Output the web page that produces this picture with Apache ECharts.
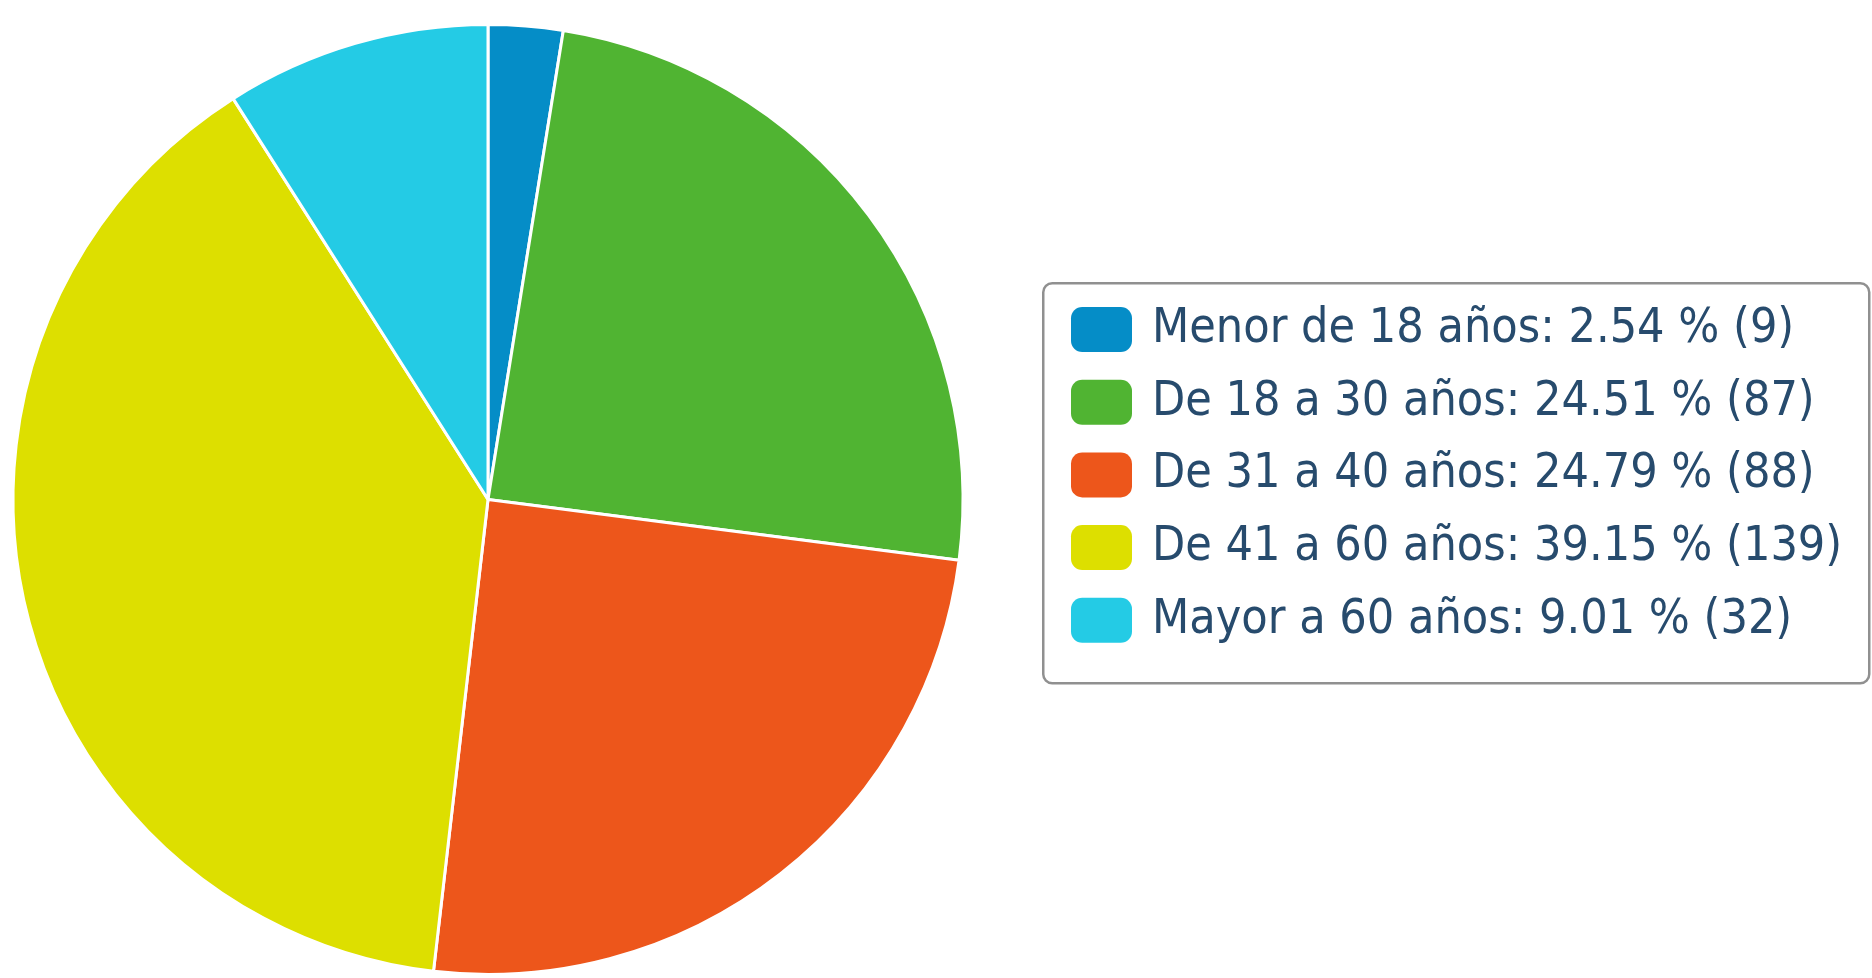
<!DOCTYPE html>
<html>
<head>
<meta charset="utf-8">
<script src="https://cdn.jsdelivr.net/npm/echarts@6/dist/echarts.min.js"></script>
<style>
  html, body { margin: 0; padding: 0; background: #fff; }
  #chart { width: 1872px; height: 978px; }
</style>
</head>
<body>
<div id="chart"></div>
<script>
// grupos de edad
const categories = ["Menor de 18 años", "De 18 a 30 años", "De 31 a 40 años", "De 41 a 60 años", "Mayor a 60 años"];
const counts = [9, 87, 88, 139, 32];
const colors = ["#058dc7", "#50b432", "#ed561b", "#dddf00", "#24cbe5"];

const total = counts.reduce((a, b) => a + b, 0);
const pieData = categories.map((name, i) => ({
  name,
  value: counts[i],
  itemStyle: { color: colors[i] },
}));

const chart = echarts.init(document.getElementById("chart"));
const option = {
  backgroundColor: "#ffffff",
  animation: false,
  graphic: [
    {
      type: "rect",
      left: 1042,
      top: 282,
      shape: { width: 826, height: 400, r: 9 },
      style: { fill: "#ffffff", stroke: "#909090", lineWidth: 2.5 },
      z: 0,
    },
  ],
  legend: {
    orient: "vertical",
    left: 1066,
    top: 299,
    itemWidth: 61,
    itemHeight: 45,
    itemGap: 21.7,
    icon: "roundRect",
    itemStyle: { borderWidth: 0 },
    textStyle: {
      fontFamily: "DejaVu Sans Condensed",
      fontSize: 48,
      lineHeight: 45,
      color: "#274b6d",
      padding: [6, 0, 0, 15],
    },
    formatter: (name) => {
      const i = categories.indexOf(name);
      const pct = ((counts[i] / total) * 100).toFixed(2);
      return name + ": " + pct + " % (" + counts[i] + ")";
    },
    z: 5,
  },
  series: [
    {
      type: "pie",
      center: [488, 499.5],
      radius: 475,
      startAngle: 90,
      clockwise: true,
      label: { show: false },
      labelLine: { show: false },
      itemStyle: { borderColor: "#ffffff", borderWidth: 3 },
      emphasis: { disabled: true },
      data: pieData,
    },
  ],
};
chart.setOption(option);
</script>
</body>
</html>
